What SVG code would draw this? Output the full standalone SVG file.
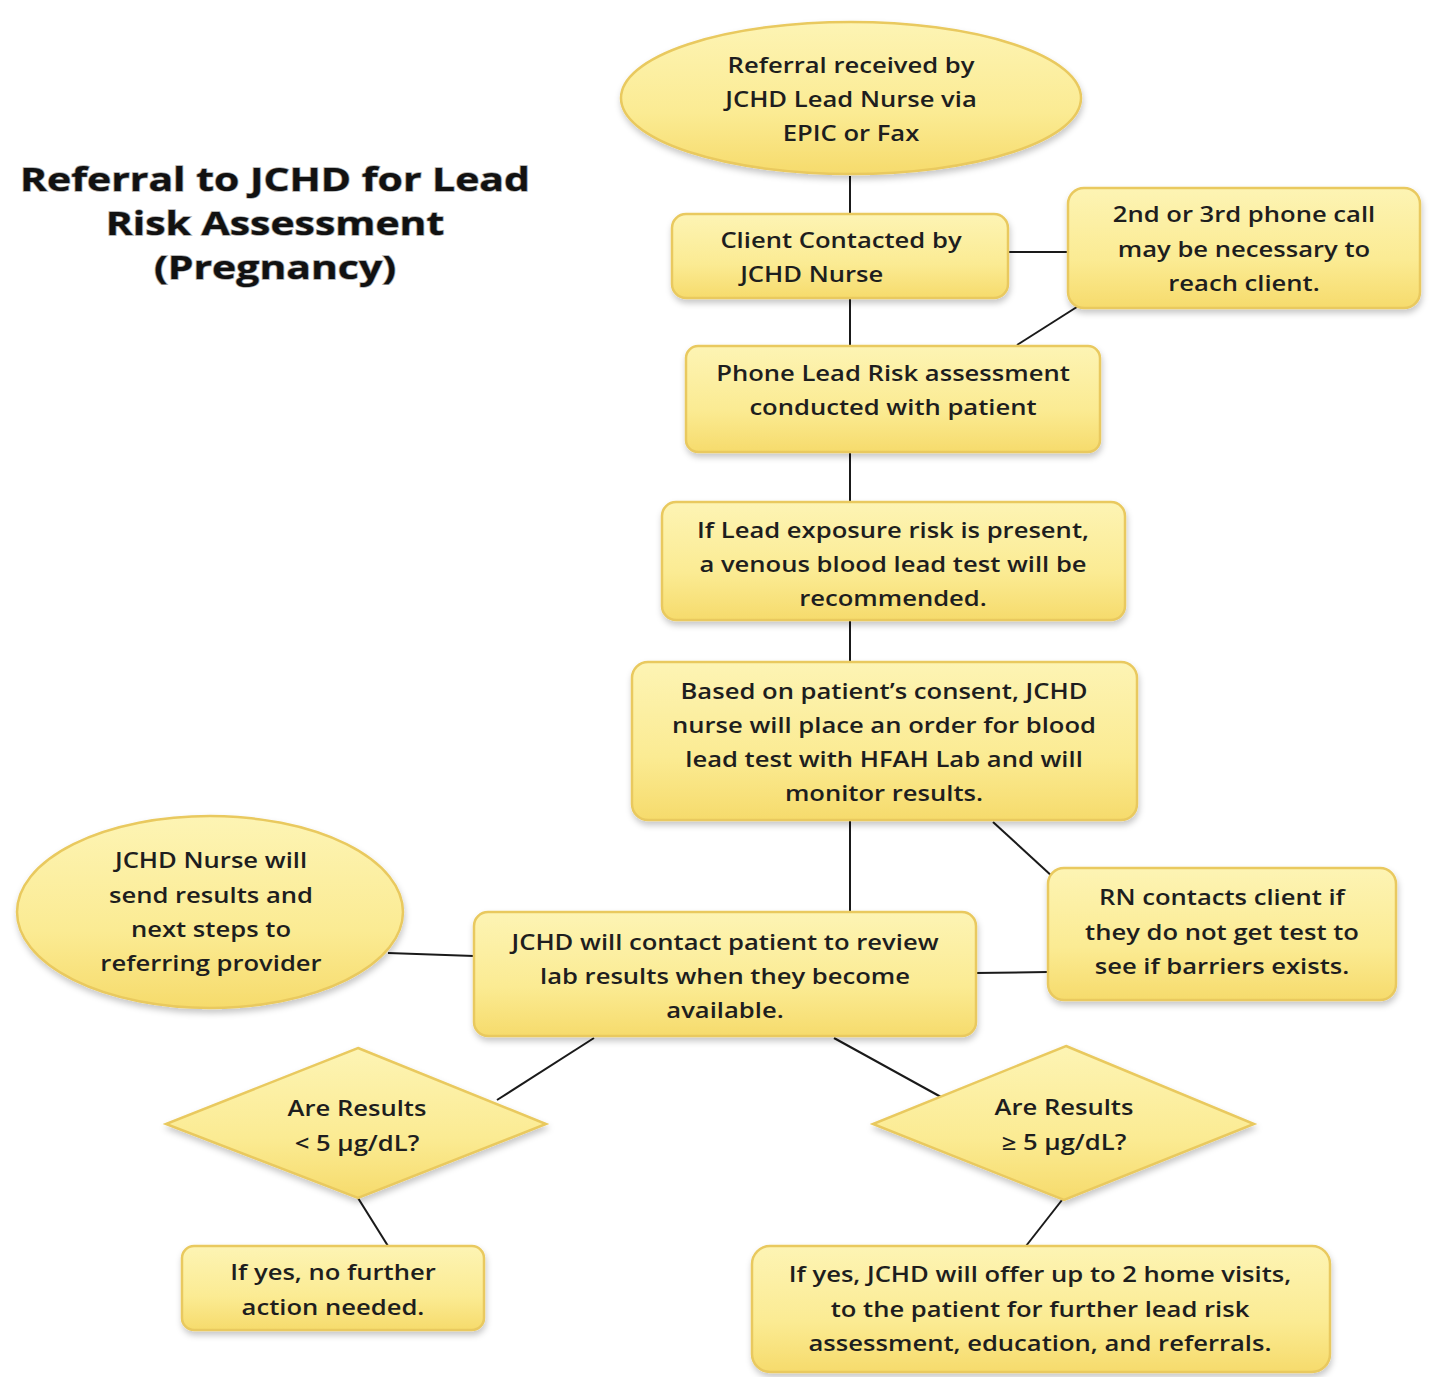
<svg xmlns="http://www.w3.org/2000/svg" width="1430" height="1377" viewBox="0 0 1430 1377">
<style>
.n{fill:url(#g);stroke:#e9c95e;stroke-width:2.5;filter:url(#sh)}
.t{font-family:"Open Sans","Liberation Sans",sans-serif;font-size:21px;font-weight:600;fill:#1e1e1e;text-anchor:middle}
.c{stroke:#1a1a1a;stroke-width:2;fill:none}
.title{font-family:"Open Sans","Liberation Sans",sans-serif;font-size:33px;font-weight:bold;fill:#111;text-anchor:middle;stroke:#aaa;stroke-width:1.4;paint-order:stroke}
</style>
<defs>
<linearGradient id="g" x1="0" y1="0" x2="0" y2="1">
<stop offset="0" stop-color="#fdf4b4"/>
<stop offset="0.6" stop-color="#fbeb93"/>
<stop offset="1" stop-color="#f6db6c"/>
</linearGradient>
<filter id="sh" x="-10%" y="-10%" width="120%" height="130%">
<feDropShadow dx="1" dy="4" stdDeviation="3" flood-color="#000" flood-opacity="0.22"/>
</filter>
</defs>
<rect width="1430" height="1377" fill="#fff"/>
<g id="title" transform="matrix(1.24 0 0 1 275 0)">
<text class="title" x="0" y="191">Referral to JCHD for Lead</text>
<text class="title" x="0" y="235">Risk Assessment</text>
<text class="title" x="0" y="279">(Pregnancy)</text>
</g>
<g id="connectors">
<line class="c" x1="850" y1="176" x2="850" y2="214"/>
<line class="c" x1="1008" y1="252" x2="1068" y2="252"/>
<line class="c" x1="850" y1="298" x2="850" y2="346"/>
<line class="c" x1="1080" y1="305" x2="1017" y2="345"/>
<line class="c" x1="850" y1="452" x2="850" y2="502"/>
<line class="c" x1="850" y1="620" x2="850" y2="662"/>
<line class="c" x1="850" y1="820" x2="850" y2="914"/>
<line class="c" x1="993" y1="822" x2="1054" y2="878"/>
<line class="c" x1="975" y1="973" x2="1048" y2="972"/>
<line class="c" x1="388" y1="953" x2="474" y2="956"/>
<line class="c" x1="594" y1="1038" x2="497" y2="1100"/>
<line class="c" x1="834" y1="1038" x2="941" y2="1097"/>
<line class="c" x1="358" y1="1198" x2="388" y2="1246"/>
<line class="c" x1="1062" y1="1200" x2="1026" y2="1246"/>
</g>
<g id="n1">
<ellipse class="n" cx="851" cy="98" rx="230" ry="76"/>
<g transform="matrix(1.22 0 0 1 851 0)">
<text class="t" x="0" y="73">Referral received by</text>
<text class="t" x="0" y="107">JCHD Lead Nurse via</text>
<text class="t" x="0" y="141">EPIC or Fax</text>
</g>
</g>
<g id="n2">
<rect class="n" x="672" y="214" width="336" height="84" rx="14"/>
<g transform="matrix(1.22 0 0 1 841 0)">
<text class="t" x="0" y="248">Client Contacted by</text>
<text class="t" x="-24" y="282">JCHD Nurse</text>
</g>
</g>
<g id="n3">
<rect class="n" x="1068" y="188" width="352" height="120" rx="16"/>
<g transform="matrix(1.22 0 0 1 1244 0)">
<text class="t" x="0" y="222">2nd or 3rd phone call</text>
<text class="t" x="0" y="257">may be necessary to</text>
<text class="t" x="0" y="291">reach client.</text>
</g>
</g>
<g id="n4">
<rect class="n" x="686" y="346" width="414" height="106" rx="12"/>
<g transform="matrix(1.22 0 0 1 893 0)">
<text class="t" x="0" y="381">Phone Lead Risk assessment</text>
<text class="t" x="0" y="415">conducted with patient</text>
</g>
</g>
<g id="n5">
<rect class="n" x="662" y="502" width="463" height="118" rx="14"/>
<g transform="matrix(1.22 0 0 1 893 0)">
<text class="t" x="0" y="538">If Lead exposure risk is present,</text>
<text class="t" x="0" y="572">a venous blood lead test will be</text>
<text class="t" x="0" y="606">recommended.</text>
</g>
</g>
<g id="n6">
<rect class="n" x="632" y="662" width="505" height="158" rx="16"/>
<g transform="matrix(1.22 0 0 1 884 0)">
<text class="t" x="0" y="699">Based on patient’s consent, JCHD</text>
<text class="t" x="0" y="733">nurse will place an order for blood</text>
<text class="t" x="0" y="767">lead test with HFAH Lab and will</text>
<text class="t" x="0" y="801">monitor results.</text>
</g>
</g>
<g id="n7">
<rect class="n" x="1048" y="868" width="348" height="132" rx="16"/>
<g transform="matrix(1.22 0 0 1 1222 0)">
<text class="t" x="0" y="905">RN contacts client if</text>
<text class="t" x="0" y="940">they do not get test to</text>
<text class="t" x="0" y="974">see if barriers exists.</text>
</g>
</g>
<g id="n8">
<rect class="n" x="474" y="912" width="502" height="124" rx="14"/>
<g transform="matrix(1.22 0 0 1 725 0)">
<text class="t" x="0" y="950">JCHD will contact patient to review</text>
<text class="t" x="0" y="984">lab results when they become</text>
<text class="t" x="0" y="1018">available.</text>
</g>
</g>
<g id="n9">
<ellipse class="n" cx="210" cy="912" rx="193" ry="96"/>
<g transform="matrix(1.22 0 0 1 211 0)">
<text class="t" x="0" y="868">JCHD Nurse will</text>
<text class="t" x="0" y="903">send results and</text>
<text class="t" x="0" y="937">next steps to</text>
<text class="t" x="0" y="971">referring provider</text>
</g>
</g>
<g id="n10">
<polygon class="n" points="358,1048 546,1124 358,1198 166,1124"/>
<g transform="matrix(1.22 0 0 1 357 0)">
<text class="t" x="0" y="1116">Are Results</text>
<text class="t" x="0" y="1151">&lt; 5 µg/dL?</text>
</g>
</g>
<g id="n11">
<polygon class="n" points="1066,1046 1254,1124 1064,1200 873,1124"/>
<g transform="matrix(1.22 0 0 1 1064 0)">
<text class="t" x="0" y="1115">Are Results</text>
<text class="t" x="0" y="1150">≥ 5 µg/dL?</text>
</g>
</g>
<g id="n12">
<rect class="n" x="182" y="1246" width="302" height="84" rx="12"/>
<g transform="matrix(1.22 0 0 1 333 0)">
<text class="t" x="0" y="1280">If yes, no further</text>
<text class="t" x="0" y="1315">action needed.</text>
</g>
</g>
<g id="n13">
<rect class="n" x="752" y="1246" width="578" height="126" rx="18"/>
<g transform="matrix(1.22 0 0 1 1040 0)">
<text class="t" x="0" y="1282">If yes, JCHD will offer up to 2 home visits,</text>
<text class="t" x="0" y="1317">to the patient for further lead risk</text>
<text class="t" x="0" y="1351">assessment, education, and referrals.</text>
</g>
</g>
</svg>
